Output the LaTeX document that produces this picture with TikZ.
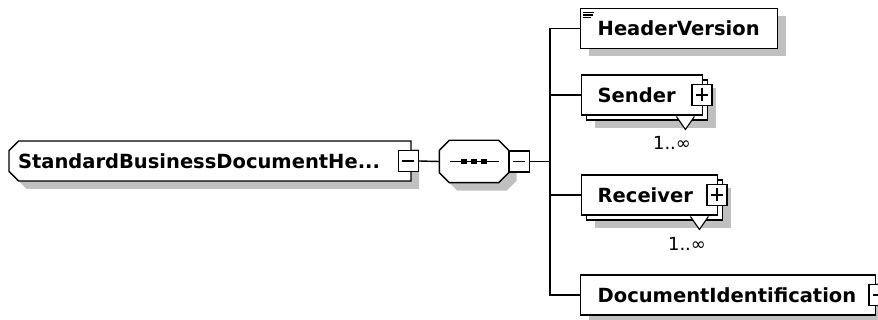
\documentclass[tikz,border=0pt]{standalone}
\usepackage{fontspec}
\setmainfont{DejaVu Sans}
\usetikzlibrary{positioning,shapes.misc,shadows,calc}
\definecolor{ShadowGrey}{RGB}{192,192,192}

\begin{document}
\begin{tikzpicture}[
  x=1pt, y=-1pt, line width=1.4pt,
  every node/.style={font=\fontsize{19.5}{22}\selectfont\bfseries},
  shadowed/.style={
    drop shadow={shadow xshift=#1, shadow yshift=-#1, fill=ShadowGrey, opacity=1}
  },
  elembase/.style={
    rectangle, draw=black, fill=white, inner xsep=0pt,
    minimum height=40pt, text width=#1, align=left, anchor=west
  },
  elem/.style={elembase=#1, shadowed=8pt},
  multi/.style={
    elembase=#1, shadowed=13pt,
    copy shadow={shadow xshift=5pt, shadow yshift=-5pt, draw=black, fill=white}
  },
  rootbox/.style={
    chamfered rectangle, chamfered rectangle corners={north west,south west},
    chamfered rectangle xsep=6pt, draw=black, fill=white, inner xsep=0pt,
    minimum width=402pt, minimum height=40pt, shadowed=8pt
  },
  seqbox/.style={
    rectangle, draw=none, minimum width=68pt, minimum height=41pt, inner sep=0pt
  },
  pmbox/.style={
    rectangle, draw=black, fill=white, inner sep=0pt,
    minimum width=20pt, minimum height=21pt, line width=1.2pt
  },
  minusbox/.style={pmbox, path picture={
    \draw ([xshift=4pt]path picture bounding box.west) -- ([xshift=-4pt]path picture bounding box.east);}},
  plusbox/.style={pmbox, path picture={
    \draw ([xshift=4pt]path picture bounding box.west) -- ([xshift=-4pt]path picture bounding box.east);
    \draw ([yshift=-4pt]path picture bounding box.north) -- ([yshift=4pt]path picture bounding box.south);}},
  card/.style={font=\fontsize{18}{20}\selectfont\mdseries, inner sep=0pt}
]
\useasboundingbox (0,0) rectangle (878,320);

% ---- root element and sequence ----
\node[rootbox]  (sbdh)  at (210,161)   {\makebox[384pt][l]{StandardBusinessDocumentHe...}};
\node[minusbox, right=-14pt of sbdh.east] (sbdhm) {};
\node[seqbox]   (seq)   at (474,161.5) {};
\filldraw[fill=white, shadowed=8pt]
  ([xshift=10pt]seq.north west) -- ([xshift=-10pt]seq.north east)
  -- ([yshift=-10pt]seq.north east) -- ([yshift=10pt]seq.south east)
  -- ([xshift=-10pt]seq.south east) -- ([xshift=10pt]seq.south west)
  -- ([yshift=10pt]seq.south west) -- ([yshift=-10pt]seq.north west) -- cycle;
\node[minusbox, right=0pt of seq.east]  (seqm)  {};
\draw ([xshift=-24pt]seq.center) -- ([xshift=25pt]seq.center);
\foreach \dx in {-10,0,10}
  \fill ([xshift=\dx pt]seq.center) +(-2.6,-2.6) rectangle +(2.6,2.6);
\coordinate (bus) at (550,161.5);

% ---- children ----
\node[elem=197pt]  (hdr)   at (580,28.5) {\hspace*{17pt}HeaderVersion};
\node[multi=121pt] (snd)   at (581,95)   {\hspace*{16pt}Sender};
\node[multi=136pt] (rcv)   at (581,195)  {\hspace*{16pt}Receiver};
\node[elem=295pt]  (docid) at (580,295)  {\hspace*{17pt}DocumentIdentification};

\node[plusbox, right=-12pt of snd.east]  (sndp)  {};
\node[plusbox, right=-12pt of rcv.east]  (rcvp)  {};
\node[plusbox, right=-8pt of docid.east] (docp)  {};

% simple type icon
\draw[line width=1.3pt] ([shift={(3,4.5)}]hdr.north west) -- +(11,0);
\draw[line width=1.3pt] ([shift={(3,7.2)}]hdr.north west) -- +(10,0);
\draw[line width=1.3pt] ([shift={(3,9.9)}]hdr.north west) -- +(8,0);

% ---- cardinality ----
\filldraw[fill=white, line width=1.1pt] ([shift={(-27,0.8)}]snd.south east) -- ++(9,13) -- ++(9,-13);
\filldraw[fill=white, line width=1.1pt] ([shift={(-28,0.8)}]rcv.south east) -- ++(9,13) -- ++(9,-13);
\node[card] (sndcard) at (672,143) {1..∞};
\node[card] (rcvcard) at (687,244) {1..∞};

% ---- connectors ----
\draw (sbdhm.east) -- (seq.west);
\draw (seqm.east)  -- (bus);
\draw (bus) |- (hdr.west);
\draw (bus) |- (snd.west);
\draw (bus) |- (rcv.west);
\draw (bus) |- (docid.west);

\end{tikzpicture}
\end{document}
